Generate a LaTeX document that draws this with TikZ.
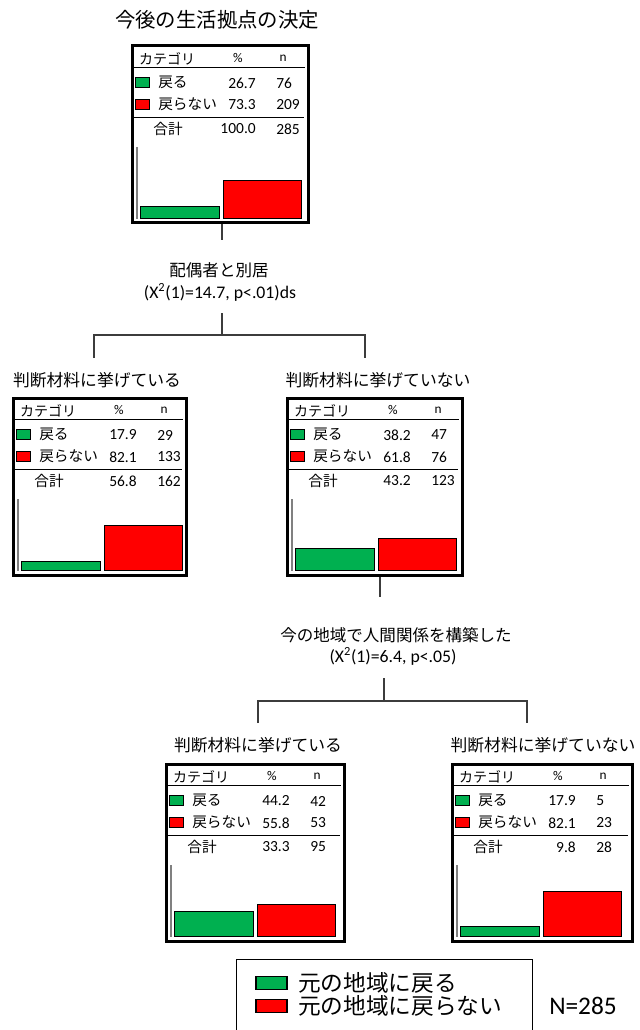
\documentclass[tikz,border=0pt]{standalone}
\usepackage{fontspec}
\setmainfont{Carlito}
\newfontfamily\jp{Noto Sans CJK JP}
\definecolor{rgreen}{RGB}{0,176,80}
\definecolor{rred}{RGB}{255,0,0}
\definecolor{conncol}{RGB}{60,60,60}
\tikzset{
  conn/.style={draw=conncol, line width=0.8pt},
  boxframe/.style={draw=black, line width=2.25pt, inner sep=0pt, anchor=north west},
  hdr/.style={inner sep=0pt, font=\jp\fontsize{10.5}{12}\selectfont},
  hdrs/.style={inner sep=0pt, font=\fontsize{10}{11}\selectfont},
  jlab/.style={inner sep=0pt, anchor=west, font=\jp\fontsize{11}{12}\selectfont},
  num/.style={inner sep=0pt, font=\fontsize{11.6}{13}\selectfont},
  sq/.style={draw=black, line width=0.6pt, minimum width=10.5pt, minimum height=7.5pt, inner sep=0pt},
  rule/.style={draw=black, line width=0.6pt},
  axisl/.style={draw=gray, line width=1pt},
  barg/.style={draw=black, line width=0.7pt, fill=rgreen},
  barr/.style={draw=black, line width=0.7pt, fill=rred},
  ttl/.style={inner sep=0pt, font=\jp\fontsize{12.6}{15}\selectfont},
  dlab/.style={inner sep=0pt, font=\jp\fontsize{12.4}{15}\selectfont},
  dstat/.style={inner sep=0pt, font=\fontsize{13.3}{15}\selectfont},
}
% #1 name, #2 left, #3 top, #4 width, #5 p1, #6 n1, #7 p2, #8 n2, #9 total pct; \nt, \gh, \rh set before
\newcommand\catbox[9]{%
\begin{scope}[shift={(#2,#3)}]
  \node[boxframe, minimum width={(#4-3)*0.75pt}, minimum height={177*0.75pt}] (#1) at (1.5,1.5) {};
  \node[hdr] (#1-h1) at (38,16) {カテゴリ};
  \node[hdrs] (#1-h2) at (109,15) {\%};
  \node[hdrs] (#1-h3) at (154,15) {n};
  \draw[rule] (3,24) -- (#4-3,24);
  \node[sq, fill=rgreen] (#1-s1) at (13.5,39.5) {};
  \node[jlab] (#1-l1) at (29,39.5) {戻る};
  \node[num, anchor=east] (#1-p1) at (127,40) {#5};
  \node[num, anchor=west] (#1-n1) at (147,40) {#6};
  \node[sq, fill=rred] (#1-s2) at (13.5,61.5) {};
  \node[jlab] (#1-l2) at (29,61.5) {戻らない};
  \node[num, anchor=east] (#1-p2) at (127,62) {#7};
  \node[num, anchor=west] (#1-n2) at (147,62) {#8};
  \draw[rule] (3,74.5) -- (#4-4,74.5);
  \node[hdr, font=\jp\fontsize{11}{12}\selectfont] (#1-tl) at (39,86) {合計};
  \node[num, anchor=east] (#1-tp) at (127,86) {#9};
  \node[num, anchor=west] (#1-tn) at (147,86) {\nt};
  \draw[axisl] (8,104) -- (8,176);
  \draw[barg] (11.5,175) rectangle (90,175-\gh);
  \draw[barr] (94,175) rectangle (172.5,175-\rh);
\end{scope}}
\begin{document}
\begin{tikzpicture}[x=0.75pt, y=-0.75pt]
\useasboundingbox (0,0) rectangle (639,1030);
% root
\node[ttl, font=\jp\fontsize{15.3}{18}\selectfont] (t0) at (217,20) {今後の生活拠点の決定};
\def\nt{285}\def\gh{12}\def\rh{38}
\catbox{root}{129}{43}{179}{26.7}{76}{73.3}{209}{100.0}
% split 1
\coordinate (c1a) at (222,240);
\draw[conn] (root.south -| c1a) -- (c1a);
\node[dlab] (d1) at (219,270) {配偶者と別居};
\node[dstat] (d1s) at (220,292) {(X\textsuperscript{2}(1)=14.7, p<.01)ds};
\coordinate (c1b) at (222,313);
\coordinate (c1c) at (222,335);
\coordinate (c1l) at (94,335);
\coordinate (c1r) at (365,335);
\coordinate (c1ld) at (94,358);
\coordinate (c1rd) at (365,358);
\draw[conn] (c1b) -- (c1c);
\draw[conn] (c1ld) -- (c1l) -- (c1r) -- (c1rd);
% children level 1
\node[ttl] (t1) at (97,380) {判断材料に挙げている};
\def\nt{162}\def\gh{9}\def\rh{45}
\catbox{A}{10}{395}{176}{17.9}{29}{82.1}{133}{56.8}
\node[ttl] (t2) at (378,380) {判断材料に挙げていない};
\def\nt{123}\def\gh{22}\def\rh{32}
\catbox{B}{284}{395}{178}{38.2}{47}{61.8}{76}{43.2}
% split 2
\coordinate (c2a) at (380,597);
\draw[conn] (B.south -| c2a) -- (c2a);
\node[dlab] (d2) at (396,635) {今の地域で人間関係を構築した};
\node[dstat] (d2s) at (393,656) {(X\textsuperscript{2}(1)=6.4, p<.05)};
\coordinate (c2b) at (384,678);
\coordinate (c2c) at (384,701);
\coordinate (c2l) at (258,701);
\coordinate (c2r) at (527,701);
\coordinate (c2ld) at (258,723);
\coordinate (c2rd) at (527,723);
\draw[conn] (c2b) -- (c2c);
\draw[conn] (c2ld) -- (c2l) -- (c2r) -- (c2rd);
% children level 2
\node[ttl] (t3) at (258,745) {判断材料に挙げている};
\def\nt{95}\def\gh{25}\def\rh{32}
\catbox{C}{163}{761}{181}{44.2}{42}{55.8}{53}{33.3}
\node[ttl] (t4) at (543,745) {判断材料に挙げていない};
\def\nt{28}\def\gh{10}\def\rh{45}
\catbox{D}{449}{761}{183}{17.9}{5}{82.1}{23}{9.8}
% legend
\node[draw=black, line width=1.1pt, inner sep=0pt, minimum width={296*0.75pt}, minimum height={80*0.75pt}, anchor=north west] (leg) at (235.5,958.5) {};
\node[draw=black, line width=0.8pt, fill=rgreen, minimum width={31*0.75pt}, minimum height={13*0.75pt}, inner sep=0pt] (lg1) at (271.5,983) {};
\node[inner sep=0pt, anchor=west, font=\jp\fontsize{17}{20}\selectfont] (lt1) at (298,983) {元の地域に戻る};
\node[draw=black, line width=0.8pt, fill=rred, minimum width={31*0.75pt}, minimum height={13*0.75pt}, inner sep=0pt] (lg2) at (271.5,1006) {};
\node[inner sep=0pt, anchor=west, font=\jp\fontsize{17}{20}\selectfont] (lt2) at (298,1006) {元の地域に戻らない};
\node[inner sep=0pt, font=\fontsize{19}{22}\selectfont] (nn) at (583,1006) {N=285};
\end{tikzpicture}
\end{document}
